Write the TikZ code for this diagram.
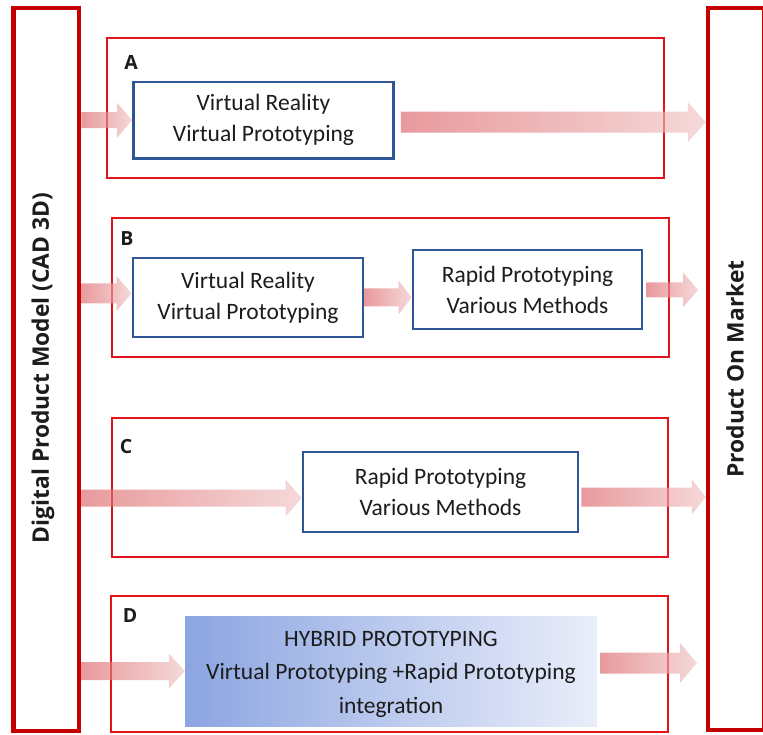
\documentclass[tikz,border=0pt]{standalone}
\usepackage{fontspec}
\setmainfont{Carlito}
\newfontfamily\headfont{Open Sans}
\usetikzlibrary{fit,calc}

\definecolor{frameRed}{RGB}{196,0,0}
\definecolor{panelRed}{RGB}{224,20,26}
\definecolor{boxBlue}{RGB}{47,85,151}
\definecolor{arrowL}{RGB}{220,100,105}
\definecolor{arrowR}{RGB}{240,195,195}
\definecolor{hybL}{RGB}{140,165,225}
\definecolor{hybR}{RGB}{234,238,250}
\definecolor{ink}{RGB}{28,28,28}

% block arrow: start point, end point (tip, sets the height),
% half shaft width, half head width, head length
\newcommand\flowarrow[5]{%
  \shade[left color=arrowL, right color=arrowR, fill opacity=0.65]
    let \p1=(#1), \p2=(#2) in
    (\x1,\y2+#3) -- (\x2-#5,\y2+#3) -- (\x2-#5,\y2+#4) -- (\x2,\y2)
    -- (\x2-#5,\y2-#4) -- (\x2-#5,\y2-#3) -- (\x1,\y2-#3) -- cycle;}

\tikzset{
  frame/.style={draw=frameRed, line width=4.5pt, inner sep=0pt},
  panel/.style={draw=panelRed, line width=2.7pt, inner sep=0pt},
  stage/.style={draw=boxBlue, line width=2.9pt, inner sep=0pt, fill=white},
  hybrid/.style={left color=hybL, right color=hybR, draw=none, inner sep=0pt},
  caption/.style={text=ink, align=center, inner sep=0pt, font=\fontsize{23.5}{31}\selectfont},
  sidetext/.style={rotate=90, text=ink, font=\headfont\bfseries\fontsize{22.8}{26}\selectfont},
  tag/.style={text=ink, font=\headfont\bfseries\fontsize{19.5}{22}\selectfont, inner sep=0pt}
}

\begin{document}
\begin{tikzpicture}[x=1pt, y=-1pt]
\useasboundingbox (0,0) rectangle (763,735);

% side frames
\node[frame, fit={(13.5,8) (79,731)}] (dpm) {};
\node[frame, fit={(708,8) (764,730)}] (pom) {};
\node[sidetext] at (43,368) {Digital Product Model (CAD 3D)};
\node[sidetext] at (735,369) {Product On Market};

% the four routes
\node[panel, fit={(107,38) (664,178)}] (pA) {};
\node[panel, fit={(112,218) (669,357)}] (pB) {};
\node[panel, fit={(112,418) (668,557)}] (pC) {};
\node[panel, fit={(111,596) (668,732)}] (pD) {};

\node[tag] at (131,63) {A};
\node[tag] at (127,239) {B};
\node[tag] at (126,447) {C};
\node[tag] at (130,616) {D};

% stage boxes
\node[stage, fit={(133.5,82) (393.5,158.5)}] (vrA) {};
\node[stage, fit={(133,258) (363,337)}] (vrB) {};
\node[stage, fit={(413,250) (642,329)}] (rpB) {};
\node[stage, fit={(303,452) (578,532)}] (rpC) {};
\node[hybrid, fit={(185,616) (597,726)}] (hyb) {};

\node[caption] at (vrA.center) {Virtual Reality\\Virtual Prototyping};
\node[caption] at (vrB.center) {Virtual Reality\\Virtual Prototyping};
\node[caption] at (rpB.center) {Rapid Prototyping\\Various Methods};
\node[caption] at (rpC.center) {Rapid Prototyping\\Various Methods};
\node[caption, font=\fontsize{23.5}{33.5}\selectfont] at ($(hyb.center)+(0,-3pt)$)
  {HYBRID PROTOTYPING\\Virtual Prototyping +Rapid Prototyping\\integration};

% free arrow ends
\coordinate (outB) at (698,290);
\coordinate (outD) at (697,663);

% flow arrows
\flowarrow{dpm.east |- vrA.west}{vrA.west}{8pt}{17.5pt}{15pt}
\flowarrow{$(vrA.east)+(6pt,0)$}{$(pom.west |- vrA.east)+(0,-2pt)$}{10.5pt}{20pt}{18pt}
\flowarrow{dpm.east |- vrB.west}{$(vrB.west)+(0,4pt)$}{10pt}{17.5pt}{15pt}
\flowarrow{vrB.east}{rpB.west |- vrB.east}{9pt}{17pt}{13pt}
\flowarrow{$(rpB.east)+(3pt,0)$}{outB}{7.5pt}{17.5pt}{15pt}
\flowarrow{dpm.east |- rpC.west}{$(rpC.west)+(0,-6pt)$}{8.5pt}{18.5pt}{16pt}
\flowarrow{$(rpC.east)+(2pt,0)$}{$(pom.west |- rpC.east)+(0,-5pt)$}{9.5pt}{17.5pt}{14pt}
\flowarrow{dpm.east |- hyb.west}{hyb.west}{9pt}{17.5pt}{16pt}
\flowarrow{$(hyb.east)+(3pt,0)$}{outD}{10.5pt}{20pt}{17pt}
\end{tikzpicture}
\end{document}
